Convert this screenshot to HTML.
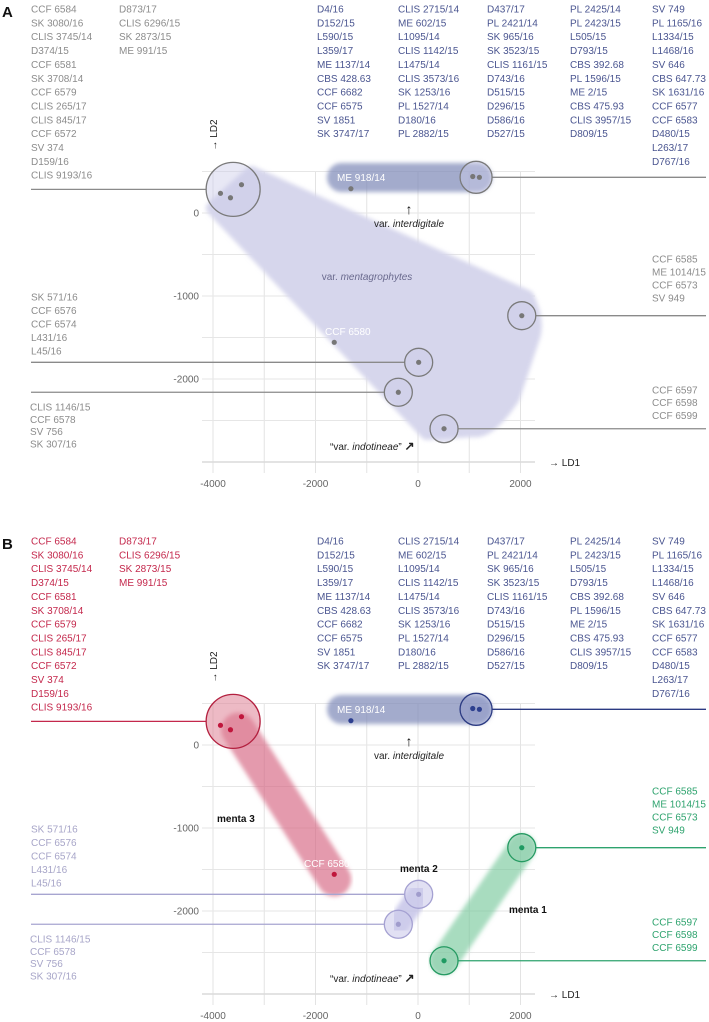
<!DOCTYPE html>
<html><head><meta charset="utf-8"><style>
html,body{margin:0;padding:0;background:#fff}
svg{display:block;font-family:"Liberation Sans",sans-serif}
</style></head><body>
<svg id="fig" width="709" height="1022" viewBox="0 0 709 1022">
<defs>
<filter id="blur" x="-20%" y="-20%" width="140%" height="140%"><feGaussianBlur stdDeviation="2.2"/></filter>
</defs>
</svg>
<script>
// ---- data (LD1, LD2) ----
const circleNames = ['menta3-cluster','interdigitale-cluster','menta1-top','menta2-top','menta2-bottom','indotineae'];
const circleLD1 = [-3607, 1133, 2025, 13, -384, 508];
const circleLD2 = [285, 430, -1237, -1799, -2160, -2599];
const circleR = [27, 16, 14, 14, 14, 14];
const pointLD1 = [-3854, -3659, -3444, -1309, 1068, 1198, 2025, -1634, 13, -384, 508];
const pointLD2 = [237, 184, 341, 293, 440, 430, -1237, -1558, -1799, -2160, -2599];
const pointGroup = ['r','r','r','b','b','b','g','r','p','p','g'];
const xTicks = [-4000, -2000, 0, 2000];
const yTicks = [0, -1000, -2000];

const labelCols = [
 {x:31,y:9,sp:13.85,g:'r',side:'L',items:['CCF 6584','SK 3080/16','CLIS 3745/14','D374/15','CCF 6581','SK 3708/14','CCF 6579','CLIS 265/17','CLIS 845/17','CCF 6572','SV 374','D159/16','CLIS 9193/16']},
 {x:119,y:9,sp:13.85,g:'r',side:'L',items:['D873/17','CLIS 6296/15','SK 2873/15','ME 991/15']},
 {x:317,y:9,sp:13.85,g:'b',items:['D4/16','D152/15','L590/15','L359/17','ME 1137/14','CBS 428.63','CCF 6682','CCF 6575','SV 1851','SK 3747/17']},
 {x:398,y:9,sp:13.85,g:'b',items:['CLIS 2715/14','ME 602/15','L1095/14','CLIS 1142/15','L1475/14','CLIS 3573/16','SK 1253/16','PL 1527/14','D180/16','PL 2882/15']},
 {x:487,y:9,sp:13.85,g:'b',items:['D437/17','PL 2421/14','SK 965/16','SK 3523/15','CLIS 1161/15','D743/16','D515/15','D296/15','D586/16','D527/15']},
 {x:570,y:9,sp:13.85,g:'b',items:['PL 2425/14','PL 2423/15','L505/15','D793/15','CBS 392.68','PL 1596/15','ME 2/15','CBS 475.93','CLIS 3957/15','D809/15']},
 {x:652,y:9,sp:13.85,g:'b',items:['SV 749','PL 1165/16','L1334/15','L1468/16','SV 646','CBS 647.73','SK 1631/16','CCF 6577','CCF 6583','D480/15','L263/17','D767/16']},
 {x:31,y:297,sp:13.5,g:'p',items:['SK 571/16','CCF 6576','CCF 6574','L431/16','L45/16']},
 {x:30,y:407,sp:12.3,g:'p',items:['CLIS 1146/15','CCF 6578','SV 756','SK 307/16']},
 {x:652,y:259,sp:13,g:'g',items:['CCF 6585','ME 1014/15','CCF 6573','SV 949']},
 {x:652,y:390,sp:12.7,g:'g',items:['CCF 6597','CCF 6598','CCF 6599']}
];
const leaderCircle = [0,1,2,3,4,5];
const leaderSide = ['L','R','R','L','L','R'];
const leaderGroup = ['r','b','g','p','p','g'];

const NS='http://www.w3.org/2000/svg';
const svg=document.getElementById('fig');
function el(tag,attrs,parent){const e=document.createElementNS(NS,tag);for(const k in attrs)e.setAttribute(k,attrs[k]);(parent||svg).appendChild(e);return e;}
function sx(v){return 418+v*0.05125;}

const colA={r:'#8c8c8c',b:'#4a5590',p:'#8c8c8c',g:'#8c8c8c'};
const colB={r:'#c4284c',b:'#4a5590',p:'#a7a5c8',g:'#2ea36e'};
const strokeA={r:'#7a7a7a',b:'#7a7a7a',p:'#7a7a7a',g:'#7a7a7a'};
const strokeB={r:'#b3203f',b:'#2b3a82',p:'#a5a1d2',g:'#259a62'};
const ptA={r:'#777',b:'#777',p:'#777',g:'#777'};
const ptB={r:'#c0163c',b:'#2d3f8f',p:'#a09ccc',g:'#1f9a62'};
const lineA={r:'#8a8a8a',b:'#8a8a8a',p:'#8a8a8a',g:'#8a8a8a'};
const lineB={r:'#c4284c',b:'#2b3a82',p:'#a7a5d0',g:'#2ea36e'};

function panel(off,colored){
  const sy=v=>213-v*0.083+off;
  const g=el('g',{});
  
  
  const letter=el('text',{x:2,y:17+off,'font-size':15,'font-weight':'bold',fill:'#111'},g);
  letter.textContent=colored?'B':'A';
  
  
  for(let v=-4000;v<=2000;v+=1000){
    const l=el('line',{x1:sx(v),x2:sx(v),y1:sy(500),y2:sy(-3000)+11,stroke:'#e3e3e3','stroke-width':1},g);
    
    
  }
  for(let v=500;v>=-3000;v-=500){
    const l=el('line',{x1:202,x2:535,y1:sy(v),y2:sy(v),stroke:v===-3000?'#dadada':'#e6e6e6','stroke-width':v===-3000?1.5:1},g);
    
    
  }
  xTicks.forEach(v=>{const t=el('text',{x:sx(v),y:sy(-3000)+25,'font-size':10,fill:'#666','text-anchor':'middle'},g);t.textContent=v;
    
    });
  yTicks.forEach(v=>{const t=el('text',{x:199,y:sy(v)+3.5,'font-size':10,fill:'#666','text-anchor':'end'},g);t.textContent=v;
    
    });
  const ld1=el('text',{x:549,y:sy(-3000)+4,'font-size':10,fill:'#222'},g);ld1.textContent='→ LD1';
  
  
  const ld2=el('text',{x:0,y:0,'font-size':10,fill:'#222','text-anchor':'middle',transform:`translate(217,${135+off}) rotate(-90)`},g);ld2.textContent='→ LD2';
  
  
  const P=(a,b)=>sx(a)+','+sy(b);
  if(!colored){
    const hull=el('path',{d:`M${P(-4000,60)} L${P(-3250,480)} L${P(2127,-1012)} Q${P(2350,-1300)} ${P(2244,-1494)} L${P(1854,-2217)} Q${P(1400,-2650)} ${P(1073,-2614)} L${P(176,-2650)} Z`,fill:'#d6d6ec',stroke:'#d6d6ec','stroke-width':14,'stroke-linejoin':'round',filter:'url(#blur)'},g);
    
    
  } else {
    const bands=[[circleLD1[0]+100,circleLD2[0]-100,pointLD1[7],pointLD2[7]-60,34,'rgba(214,100,128,0.65)','menta3-band'],
      [circleLD1[3],circleLD2[3],circleLD1[4],circleLD2[4],22,'rgba(190,188,228,0.75)','menta2-band'],
      [circleLD1[5],circleLD2[5],circleLD1[2],circleLD2[2],28,'rgba(110,196,148,0.6)','menta1-band']];
    bands.forEach(b=>{const l=el('line',{x1:sx(b[0]),y1:sy(b[1]),x2:sx(b[2]),y2:sy(b[3]),stroke:b[5],'stroke-width':b[4],'stroke-linecap':'round',filter:'url(#blur)'},g);
      
      });
  }
  const ib=el('rect',{x:327,y:163+off,width:165,height:29,rx:14.5,ry:14.5,fill:'rgba(128,138,185,0.72)',filter:'url(#blur)'},g);
  
  
  leaderCircle.forEach((ci,i)=>{const cx=sx(circleLD1[ci]),cy=sy(circleLD2[ci]),r=circleR[ci];
    const x1=leaderSide[i]==='L'?31:cx+r, x2=leaderSide[i]==='L'?cx-r:706;
    const l=el('line',{x1:x1,x2:x2,y1:cy,y2:cy,stroke:(colored?lineB:lineA)[leaderGroup[i]],'stroke-width':1.3},g);
    
    });
  circleNames.forEach((n,i)=>{const grp=leaderGroup[i];
    const c=el('circle',{cx:sx(circleLD1[i]),cy:sy(circleLD2[i]),r:circleR[i],fill:colored?(grp==='r'?'rgba(222,130,150,0.55)':grp==='g'?'rgba(140,205,170,0.45)':grp==='b'?'rgba(140,150,200,0.4)':'rgba(205,203,235,0.6)'):'rgba(205,205,232,0.45)',stroke:(colored?strokeB:strokeA)[grp],'stroke-width':1.3},g);
    
    });
  pointLD1.forEach((v,i)=>{const c=el('circle',{cx:sx(v),cy:sy(pointLD2[i]),r:2.6,fill:(colored?ptB:ptA)[pointGroup[i]]},g);
    
    });
  labelCols.forEach(col=>{col.items.forEach((s,k)=>{const t=el('text',{x:col.x,y:col.y+k*col.sp+off+3.5,'font-size':10,fill:(colored?colB:colA)[col.g]},g);t.textContent=s;
    
    });});
  function txt(x,y,s,attrs,name){const t=el('text',Object.assign({x:x,y:y+off,'font-size':10},attrs),g);t.innerHTML=s;
    
    return t;}
  txt(337,181,'ME 918/14',{fill:'#fff'},'me918-label');
  txt(colored?304:325,335,'CCF 6580',{fill:'#fff'},'ccf6580-label');
  txt(409,214,'↑',{fill:'#111','font-size':14,'font-weight':'bold','text-anchor':'middle'},'interdigitale-arrow');
  txt(409,227,'var. <tspan font-style="italic">interdigitale</tspan>',{fill:'#222','text-anchor':'middle'},'interdigitale-label');
  txt(330,450,'“var. <tspan font-style="italic">indotineae</tspan>” <tspan font-weight="bold" font-size="12">↗</tspan>',{fill:'#222'},'indotineae-label');
  if(!colored){
    txt(367,280,'var. <tspan font-style="italic">mentagrophytes</tspan>',{fill:'#6a6a8e','text-anchor':'middle'},'mentagrophytes-label');
  } else {
    txt(217,290,'menta 3',{fill:'#111','font-weight':'bold'},'menta3-label');
    txt(400,340,'menta 2',{fill:'#111','font-weight':'bold'},'menta2-label');
    txt(509,381,'menta 1',{fill:'#111','font-weight':'bold'},'menta1-label');
  }
}
panel(0,false);
panel(532,true);
</script>
</body></html>
